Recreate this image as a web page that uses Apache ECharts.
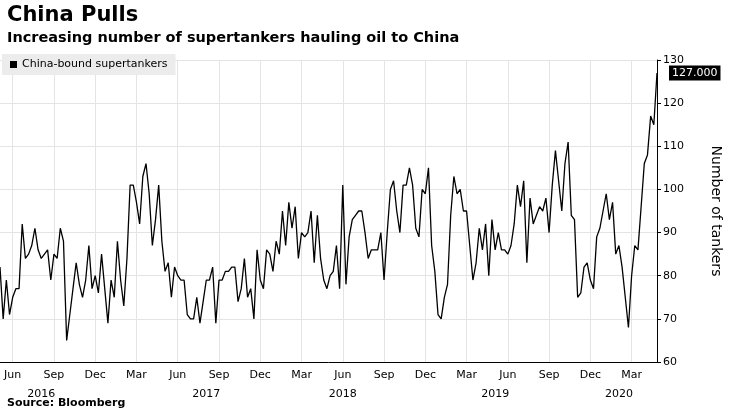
<!DOCTYPE html>
<html>
<head>
<meta charset="utf-8">
<script src="https://cdn.jsdelivr.net/npm/echarts@6/dist/echarts.min.js"></script>
<style>body{margin:0;background:#fff}#c{width:740px;height:416px}</style>
</head>
<body>
<div id="c"></div>
<script>
var startDate = '2016-05-08';
var tankers = [82,70,79,71,75,77,77,92,84,85,87,91,86,84,85,86,79,85,84,91,88,65,71,77,83,78,75,79,87,77,80,76,85,77,69,79,75,88,79,73,84,101,101,97,92,103,106,99,87,93,101,88,81,83,75,
82,80,79,79,71,70,70,75,69,74,79,79,82,69,79,79,81,81,82,82,74,77,84,75,77,70,86,79,77,86,85,81,88,85,95,87,97,91,96,84,90,89,90,95,83,94,84,79,77,80,81,
87,77,101,78,89,93,94,95,95,90,84,86,86,86,90,79,90,100,102,95,90,101,101,105,101,91,89,100,99,105,87,81,71,70,75,78,94,103,99,100,95,95,87,79,83,91,86,92,80,93,86,
90,86,86,85,87,92,101,96,102,83,98,92,94,96,95,98,90,101,109,102,95,106,111,94,93,75,76,82,83,79,77,89,91,95,99,93,97,85,87,82,75,68,80,87,86,96,106,108,117,115,127];
var monthNames = ['Jan','Feb','Mar','Apr','May','Jun','Jul','Aug','Sep','Oct','Nov','Dec'];
var yearLabelWeeks = {'2016':8, '2017':8, '2018':6, '2019':5, '2020':2};

var weeks = [];
var d0 = new Date(startDate + 'T00:00:00Z');
for (var i = 0; i < tankers.length; i++) {
	var d = new Date(d0.getTime() + i * 7 * 86400000);
	weeks.push(d.toISOString().slice(0, 10));
}
function isQuarter(idx) {
	var d = new Date(weeks[idx] + 'T00:00:00Z');
	return d.getUTCDate() <= 7 && [2,5,8,11].indexOf(d.getUTCMonth()) >= 0;
}
function isYearLabel(idx) {
	var d = new Date(weeks[idx] + 'T00:00:00Z');
	var m = yearLabelWeeks[d.getUTCFullYear()];
	return d.getUTCMonth() + 1 == m && d.getUTCDate() <= 7;
}

var myChart = echarts.init(document.getElementById('c'));
var option = {
	animation: false,
	textStyle: {fontFamily: 'DejaVu Sans'},
	title: [
		{text: 'China Pulls', left: 2, top: 0, textStyle: {fontSize: 21, fontWeight: 'bold', color: '#000'}},
		{text: 'Increasing number of supertankers hauling oil to China', left: 2, top: 26, textStyle: {fontSize: 14.5, fontWeight: 'bold', color: '#000'}},
		{text: 'Source: Bloomberg', left: 2, bottom: 2, textStyle: {fontSize: 11, fontWeight: 'bold', color: '#000'}}
	],
	legend: {
		left: 2, top: 54, itemWidth: 7, itemHeight: 7, icon: 'rect',
		backgroundColor: '#ececec', padding: [5, 8],
		textStyle: {fontSize: 11, color: '#000'}
	},
	grid: {left: 0, right: 83, top: 60, bottom: 54},
	xAxis: [{
		type: 'category', data: weeks, boundaryGap: false,
		axisLine: {show: true, lineStyle: {color: '#000'}}, axisTick: {show: false},
		axisLabel: {interval: isQuarter, color: '#000', fontSize: 11, margin: 8,
			formatter: function (v) { return monthNames[parseInt(v.slice(5, 7)) - 1]; }},
		splitLine: {show: true, interval: isQuarter, lineStyle: {color: '#e4e4e4'}}
	}, {
		type: 'category', data: weeks, boundaryGap: false, position: 'bottom', offset: 19,
		axisLine: {show: false}, axisTick: {show: false},
		axisLabel: {interval: isYearLabel, color: '#000', fontSize: 11,
			formatter: function (v) { return v.slice(0, 4); }}
	}],
	yAxis: {
		type: 'value', position: 'right', min: 60, max: 130, interval: 10,
		axisLine: {show: true, lineStyle: {color: '#000'}}, axisTick: {show: true, length: 4},
		axisLabel: {color: '#000', fontSize: 11, margin: 6},
		splitLine: {lineStyle: {color: '#e4e4e4'}},
		name: 'Number of tankers', nameLocation: 'middle', nameRotate: -90, nameGap: 52,
		nameTextStyle: {fontSize: 14, color: '#000'}
	},
	series: [{
		name: 'China-bound supertankers', type: 'line', data: tankers, symbol: 'none',
		lineStyle: {color: '#000', width: 1.3}, itemStyle: {color: '#000'},
		endLabel: {show: true, formatter: function (p) { return p.value.toFixed(3); },
			backgroundColor: '#000', color: '#fff', fontSize: 11, padding: [2, 3], offset: [4, 0]}
	}]
};
myChart.setOption(option);
</script>
</body>
</html>
